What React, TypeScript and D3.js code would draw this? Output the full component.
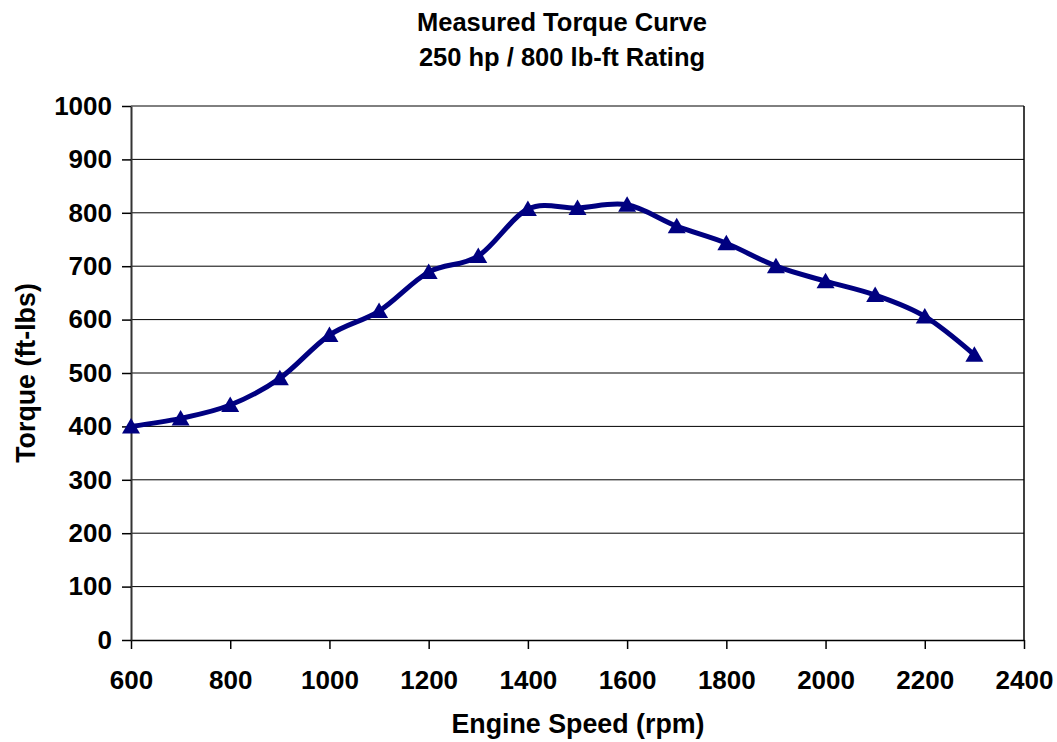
import { useEffect, useRef } from "react";
import * as d3 from "d3";

// engine speed (rpm) and measured torque (ft-lbs)
const rpm = [600, 700, 800, 900, 1000, 1100, 1200, 1300, 1400, 1500, 1600, 1700, 1800, 1900, 2000, 2100, 2200, 2300];
const torque = [400, 415, 440, 490, 571, 616, 689, 719, 807, 809, 815, 775, 743, 700, 672, 646, 606, 534];
const xTicks = [600, 800, 1000, 1200, 1400, 1600, 1800, 2000, 2200, 2400];
const yTicks = [0, 100, 200, 300, 400, 500, 600, 700, 800, 900, 1000];

const W = 1057,
  H = 742;
const FONT = "'Liberation Sans', Arial, sans-serif";

export default function App() {
  const ref = useRef<SVGSVGElement>(null);

  useEffect(() => {
    const margin = { top: 106, right: 33, bottom: 102, left: 131 };
    const width = W - margin.left - margin.right;
    const height = H - margin.top - margin.bottom;

    const root = d3.select(ref.current);
    root.selectAll("*").remove();

    // titles
    const title = root
      .append("text")
      .attr("text-anchor", "middle")
      .style("font-family", FONT)
      .style("font-weight", "bold")
      .style("font-size", "25.5px");
    title.append("tspan").attr("x", 562).attr("y", 31).text("Measured Torque Curve");
    title.append("tspan").attr("x", 562).attr("y", 66).text("250 hp / 800 lb-ft Rating");

    root
      .append("text")
      .attr("x", 578)
      .attr("y", 733)
      .attr("text-anchor", "middle")
      .style("font-family", FONT)
      .style("font-weight", "bold")
      .style("font-size", "26.8px")
      .text("Engine Speed (rpm)");

    root
      .append("text")
      .attr("transform", "translate(35,373) rotate(-90)")
      .attr("text-anchor", "middle")
      .style("font-family", FONT)
      .style("font-weight", "bold")
      .style("font-size", "26.8px")
      .text("Torque (ft-lbs)");

    const svg = root.append("g").attr("transform", "translate(" + margin.left + "," + margin.top + ")");

    var x = d3.scaleLinear().domain([600, 2400]).range([0, width]);
    var y = d3.scaleLinear().domain([0, 1000]).range([height, 0]);

    // gridlines
    svg
      .selectAll("line.grid")
      .data(yTicks.filter((d) => d > 0))
      .enter()
      .append("line")
      .attr("class", "grid")
      .attr("x1", 0)
      .attr("x2", width)
      .attr("y1", (d) => y(d))
      .attr("y2", (d) => y(d))
      .attr("stroke", "#000")
      .attr("stroke-width", 1);

    // right border
    svg
      .append("line")
      .attr("x1", width)
      .attr("x2", width)
      .attr("y1", 0)
      .attr("y2", height)
      .attr("stroke", "#000")
      .attr("stroke-width", 1.5);

    // X axis
    const xAxis = svg
      .append("g")
      .attr("transform", "translate(0," + height + ")")
      .call(
        d3
          .axisBottom(x)
          .tickValues(xTicks)
          .tickFormat(d3.format("d"))
          .tickSize(9)
          .tickSizeOuter(0)
          .tickPadding(22)
      );
    xAxis.select(".domain").attr("stroke-width", 1.5);
    xAxis.selectAll("line").attr("stroke-width", 1.5);
    xAxis
      .selectAll("text")
      .style("font-family", FONT)
      .style("font-weight", "bold")
      .style("font-size", "26px")
      .attr("fill", "#000");

    // Y axis
    const yAxis = svg
      .append("g")
      .call(
        d3
          .axisLeft(y)
          .tickValues(yTicks)
          .tickFormat(d3.format("d"))
          .tickSize(9)
          .tickSizeOuter(0)
          .tickPadding(10)
      );
    yAxis.select(".domain").attr("stroke", "#333").attr("stroke-width", 2);
    yAxis.selectAll("line").attr("stroke-width", 1.5);
    yAxis
      .selectAll("text")
      .style("font-family", FONT)
      .style("font-weight", "bold")
      .style("font-size", "26px")
      .attr("fill", "#000");

    const data = rpm.map((r, i) => ({ rpm: r, torque: torque[i] }));

    // smoothed line
    const line = d3
      .line<{ rpm: number; torque: number }>()
      .x((d) => x(d.rpm))
      .y((d) => y(d.torque))
      .curve(d3.curveCardinal.tension(0));
    svg
      .append("path")
      .datum(data)
      .attr("d", line)
      .attr("fill", "none")
      .attr("stroke", "#000080")
      .attr("stroke-width", 5)
      .attr("stroke-linejoin", "round");

    // triangle markers
    const tri = "M0,-8.5L9,7L-9,7Z";
    svg
      .selectAll("path.marker")
      .data(data)
      .enter()
      .append("path")
      .attr("class", "marker")
      .attr("d", tri)
      .attr("transform", (d) => "translate(" + x(d.rpm) + "," + y(d.torque) + ")")
      .attr("fill", "#000080");
  }, []);

  return (
    <svg
      ref={ref}
      width={W}
      height={H}
      style={{ position: "absolute", left: 0, top: 0, background: "#fff" }}
    ></svg>
  );
}
